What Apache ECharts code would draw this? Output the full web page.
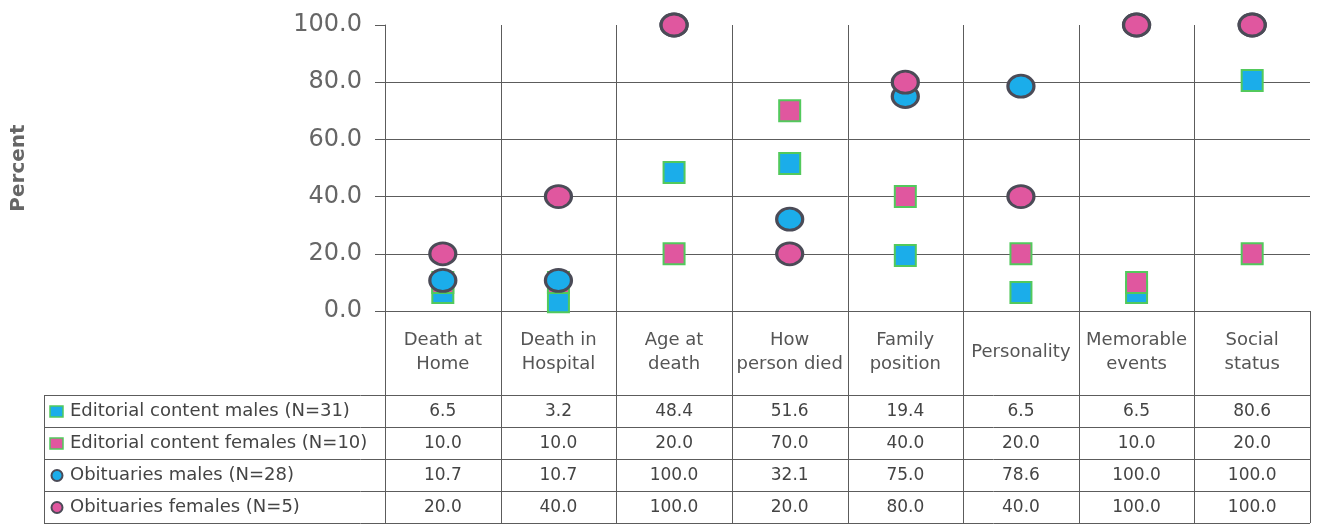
<!DOCTYPE html>
<html>
<head>
<meta charset="utf-8">
<title>Editorial content vs obituaries</title>
<script src="https://cdn.jsdelivr.net/npm/echarts@6/dist/echarts.min.js"></script>
<style>
  html, body { margin: 0; padding: 0; background: #fff; }
  #chart { width: 1319px; height: 528px; }
</style>
</head>
<body>
<div id="chart"></div>
<script>
// data
const categories = ['Death at\nHome', 'Death in\nHospital', 'Age at\ndeath', 'How\nperson died', 'Family\nposition', 'Personality', 'Memorable\nevents', 'Social\nstatus'];
const seriesNames = ['Editorial content males (N=31)', 'Editorial content females (N=10)', 'Obituaries males (N=28)', 'Obituaries females (N=5)'];
const editorialMales = [6.5, 3.2, 48.4, 51.6, 19.4, 6.5, 6.5, 80.6];
const editorialFemales = [10.0, 10.0, 20.0, 70.0, 40.0, 20.0, 10.0, 20.0];
const obituaryMales = [10.7, 10.7, 100.0, 32.1, 75.0, 78.6, 100.0, 100.0];
const obituaryFemales = [20.0, 40.0, 100.0, 20.0, 80.0, 40.0, 100.0, 100.0];
const yTicks = [0, 20, 40, 60, 80, 100];

document.addEventListener('DOMContentLoaded', function(){
  var chart = echarts.init(document.getElementById('chart'), null, { renderer: 'canvas' });

  var font = '"DejaVu Sans", "Liberation Sans", Arial, sans-serif';
  var blue = '#1badea', pink = '#e0579f', green = '#52c95c', dark = '#4b4b57';
  var lineColor = '#5c5c5c';

  // marker look per series (square = editorial, circle = obituaries)
  var looks = [
    { symbol: 'rect', size: 21, fill: blue, border: green, bw: 2 },
    { symbol: 'rect', size: 21, fill: pink, border: green, bw: 2 },
    { symbol: 'circle', size: [26, 22], fill: blue, border: dark, bw: 3 },
    { symbol: 'circle', size: [26, 22], fill: pink, border: dark, bw: 3 }
  ];
  var values = [editorialMales, editorialFemales, obituaryMales, obituaryFemales];

  var gridLeft = 385, gridRight = 9, gridTop = 25, gridBottom = 217;

  chart.setOption({
    animation: false,
    backgroundColor: '#fff',
    grid: { left: gridLeft, right: gridRight, top: gridTop, bottom: gridBottom, outerBoundsMode: 'none' },
    xAxis: {
      type: 'category',
      data: categories,
      boundaryGap: true,
      axisLine: { show: true, lineStyle: { color: lineColor, width: 1 } },
      axisTick: { show: false },
      splitLine: { show: false },
      axisLabel: {
        interval: 0,
        color: '#555',
        fontSize: 18,
        fontFamily: font,
        lineHeight: 24,
        verticalAlign: 'middle',
        margin: 41
      }
    },
    yAxis: {
      type: 'value',
      min: yTicks[0],
      max: yTicks[yTicks.length - 1],
      interval: yTicks[1] - yTicks[0],
      name: 'Percent',
      nameLocation: 'middle',
      nameRotate: 90,
      nameGap: 356,
      nameTextStyle: { color: '#666', fontSize: 20, fontWeight: 'bold', fontFamily: font },
      axisLine: { show: true, lineStyle: { color: lineColor, width: 1 } },
      axisTick: { show: true, length: 10, lineStyle: { color: lineColor } },
      axisLabel: {
        color: '#666',
        fontSize: 24,
        fontFamily: font,
        margin: 23,
        formatter: function(v){ return v.toFixed(1); }
      },
      splitLine: { show: true, showMaxLine: false, lineStyle: { color: lineColor, width: 1 } }
    },
    series: values.map(function(vals, i){
      var lk = looks[i];
      return {
        name: seriesNames[i],
        type: 'scatter',
        symbol: lk.symbol,
        symbolSize: lk.size,
        data: vals,
        z: 2 + i,
        itemStyle: { color: lk.fill, borderColor: lk.border, borderWidth: lk.bw, opacity: 1 },
        emphasis: { disabled: true }
      };
    })
  });

  // data table below the plot
  var n = categories.length;
  var plotRight = 1319 - gridRight;
  var band = (plotRight - gridLeft) / n;
  var axisY = 528 - gridBottom;
  var rowLines = [395, 427, 459, 491, 523];
  var tableLeft = 44;
  var els = [];

  var line = function(x1, y1, x2, y2){
    els.push({ type: 'line', silent: true, z: 1,
      shape: { x1: x1, y1: y1, x2: x2, y2: y2 },
      style: { stroke: lineColor, lineWidth: 1 } });
  };

  // column separators
  for (var i = 0; i <= n; i++) {
    var x = Math.round(gridLeft + i * band) + 0.5;
    var top = (i === 0 || i === n) ? axisY : gridTop;
    line(x, top, x, rowLines[rowLines.length - 1]);
  }
  rowLines.forEach(function(y){ line(tableLeft, y + 0.5, plotRight, y + 0.5); });
  line(tableLeft + 0.5, rowLines[0], tableLeft + 0.5, rowLines[rowLines.length - 1]);

  for (var r = 0; r < seriesNames.length; r++) {
    var cy = (rowLines[r] + rowLines[r + 1]) / 2 + 0.5;
    var lk = looks[r];
    if (lk.symbol === 'rect') {
      els.push({ type: 'rect', silent: true, shape: { x: 50, y: cy - 5.5, width: 13, height: 11 },
        style: { fill: lk.fill, stroke: lk.border, lineWidth: 1.5 } });
    } else {
      els.push({ type: 'circle', silent: true, shape: { cx: 57, cy: cy, r: 5.5 },
        style: { fill: lk.fill, stroke: lk.border, lineWidth: 2 } });
    }
    els.push({ type: 'text', silent: true, x: 70, y: cy,
      style: { text: seriesNames[r], fill: '#444', fontSize: 18, fontFamily: font,
        align: 'left', verticalAlign: 'middle' } });
    for (var c = 0; c < n; c++) {
      var cx = chart.convertToPixel({ xAxisIndex: 0 }, c);
      els.push({ type: 'text', silent: true, x: cx, y: cy,
        style: { text: values[r][c].toFixed(1), fill: '#444', fontSize: 17, fontFamily: font,
          align: 'center', verticalAlign: 'middle' } });
    }
  }

  chart.setOption({ graphic: { elements: els } });
});
</script>
</body>
</html>
